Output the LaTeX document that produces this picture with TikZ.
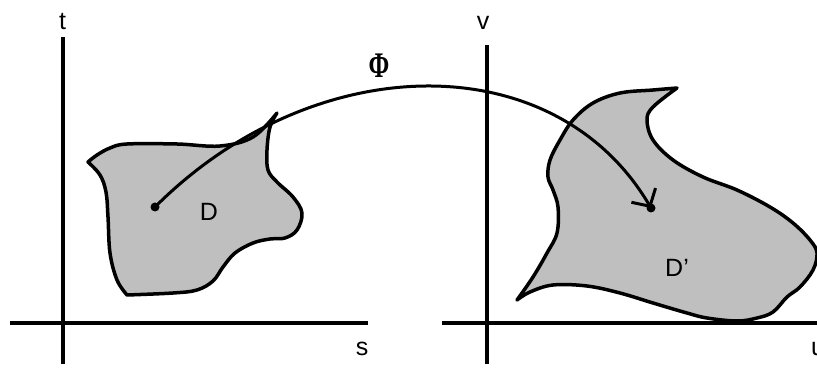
\documentclass[tikz,border=0pt]{standalone}
\usepackage{fontspec}
\setmainfont{Liberation Sans}
\newfontfamily\phifont{Liberation Serif}
\usepackage{graphicx}
\usetikzlibrary{arrows.meta}
\definecolor{regionfill}{gray}{0.75}
\tikzset{
  axisline/.style    = {draw=black, line width=4.5pt},
  regionline/.style  = {draw=black, fill=regionfill, line width=3.5pt,
                        line join=round},
  maparc/.style      = {draw=black, line width=3pt,
                        -{Straight Barb[angle=95:19pt]}},
  mappoint/.style    = {circle, fill=black, minimum size=9pt, inner sep=0pt},
  axislabel/.style   = {font=\fontsize{25}{30}\selectfont, inner sep=0pt},
  regionlabel/.style = {axislabel},
  maplabel/.style    = {font=\phifont\bfseries, inner sep=0pt},
}

\begin{document}
\begin{tikzpicture}[x=1pt, y=-1pt]
  \useasboundingbox (0,0) rectangle (817,374);
  % regions
  \draw[regionline] plot[smooth, tension=0.6] coordinates {(88,162) (97,155)
      (110,148) (127,144) (177,144) (220,146) (253,137) (277,113)}
    -- plot[smooth, tension=0.6] coordinates {(277,113) (270,127) (267,150)
      (268,170) (277,182) (293,197) (302,213) (297,230) (285,238) (270,239)
      (253,243) (235,253) (223,267) (213,281) (197,290) (173,293) (127,295)}
    -- plot[smooth, tension=0.6] coordinates {(127,295) (117,280) (110,253)
      (108,217) (106,192) (100,175) (88,162)} -- cycle;
  \draw[regionline] plot[smooth, tension=0.6] coordinates {(677,88) (653,90)
      (620,93) (593,103) (573,120) (560,140) (550,160) (548,177) (553,190)
      (558,207) (557,233) (547,253) (533,277) (517,300)}
    -- plot[smooth, tension=0.6] coordinates {(517,300) (530,292) (553,285)
      (587,286) (620,293) (653,303) (687,313) (707,318) (737,321) (757,318)
      (773,312) (787,297) (800,287) (813,270) (817,253) (810,240) (793,223)
      (770,207) (737,190) (703,177) (673,160) (653,140) (647,120) (653,107)
      (677,88)} -- cycle;
  % axes
  \coordinate (tbot) at (63,364);
  \coordinate (ttop) at (63,37);
  \coordinate (sleft) at (10,323);
  \coordinate (sright) at (368,323);
  \coordinate (vbot) at (487,364);
  \coordinate (vtop) at (487,45);
  \coordinate (uleft) at (442,323);
  \coordinate (uright) at (817,323);
  \draw[axisline] (tbot) -- (ttop);
  \draw[axisline] (sleft) -- (sright);
  \draw[axisline] (vbot) -- (vtop);
  \draw[axisline] (uleft) -- (uright);
  \node[axislabel] (tlabel) at (62.5,21.5) {t};
  \node[axislabel] (slabel) at (362,349) {s};
  \node[axislabel] (vlabel) at (483,23) {v};
  \node[axislabel, anchor=west] (ulabel) at (811,349) {u};
  \node[regionlabel] (dlabel) at (209,212) {D};
  \node[regionlabel] (dplabel) at (677,268) {D'};
  % the map
  \node[mappoint] (pdot) at (155,207) {};
  \node[mappoint] (qdot) at (651,208) {};
  \draw[maparc] (pdot.center) .. controls (315,47) and (555,45) .. (qdot.center);
  \node[maplabel] (philabel) at (379,65.5) {\scalebox{2.5}[3.6]{Φ}};
\end{tikzpicture}
\end{document}
